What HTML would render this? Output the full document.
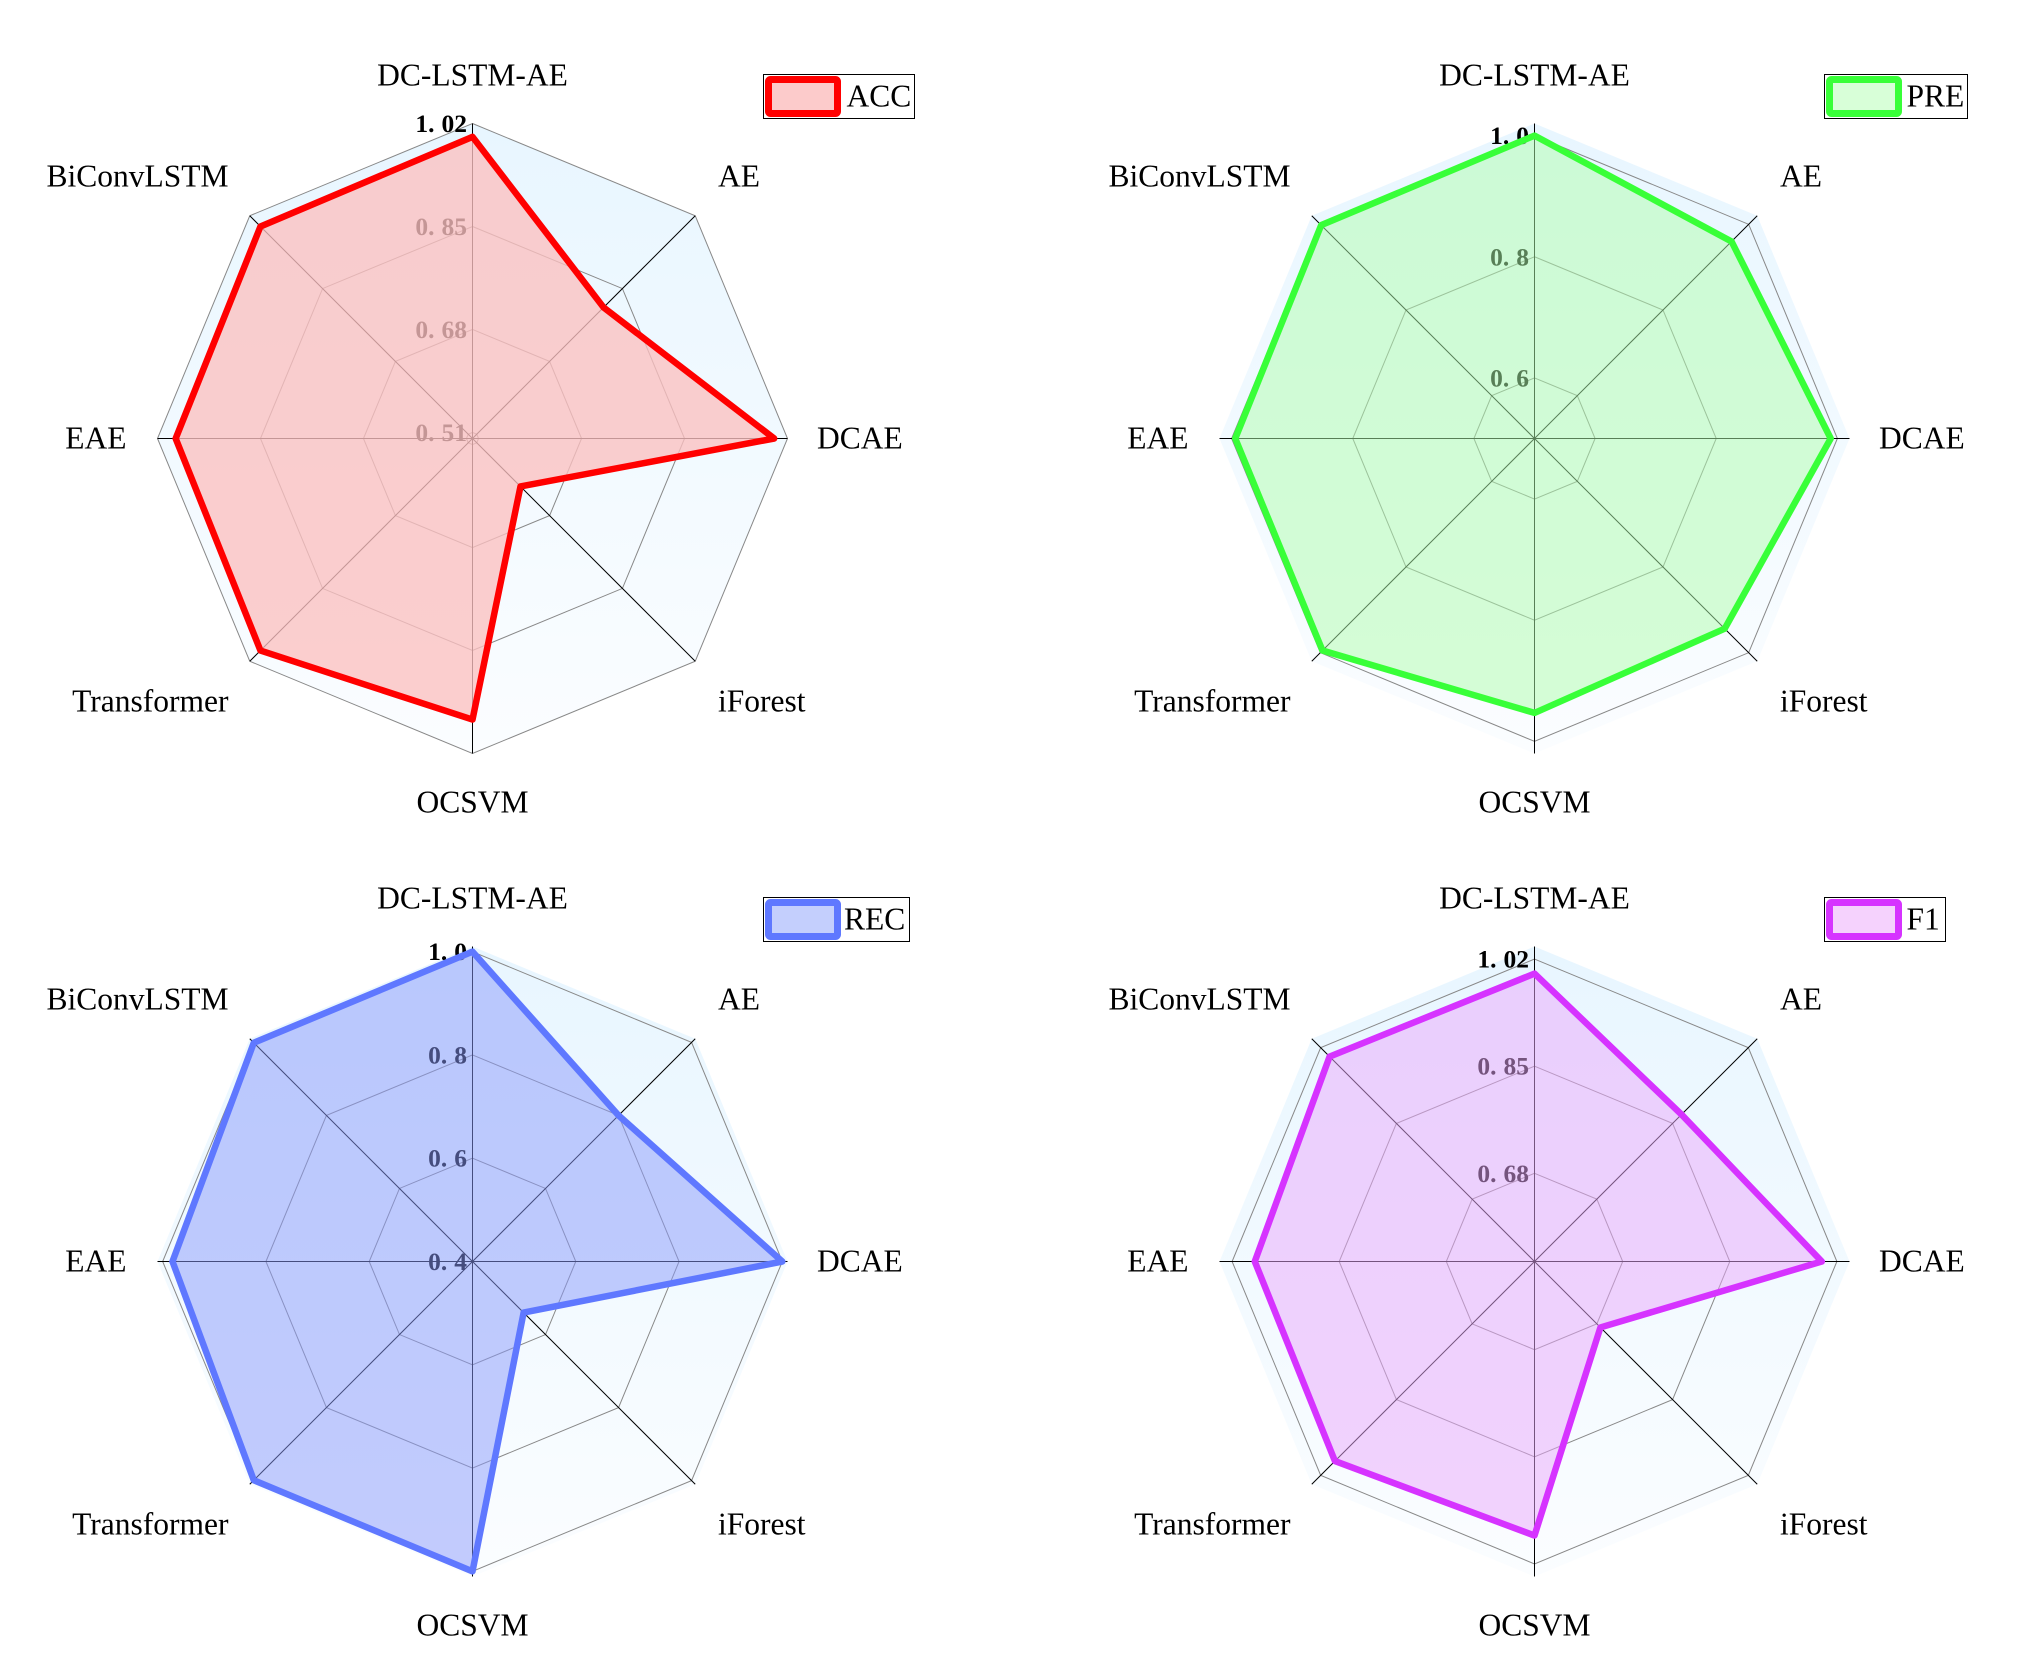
<!DOCTYPE html>
<html lang="en">
<head>
<meta charset="utf-8">
<title>Radar charts of ACC, PRE, REC and F1</title>
<style>
html,body{margin:0;padding:0;background:#fff;width:2021px;height:1676px;overflow:hidden}
svg{display:block}
text{font-family:"Liberation Serif","Times New Roman",serif;fill:#000}
</style>
</head>
<body>
<svg id="chart" xmlns="http://www.w3.org/2000/svg" width="2021" height="1676" viewBox="0 0 2021 1676">
<rect width="2021" height="1676" fill="#ffffff"/>
<defs>
<linearGradient id="band-top-left" gradientUnits="userSpaceOnUse" x1="0" y1="123" x2="0" y2="754"><stop offset="0" stop-color="#e8f6ff"/><stop offset="1" stop-color="#fbfdff"/></linearGradient>
<linearGradient id="band-top-right" gradientUnits="userSpaceOnUse" x1="0" y1="123" x2="0" y2="754"><stop offset="0" stop-color="#e8f6ff"/><stop offset="1" stop-color="#fbfdff"/></linearGradient>
<linearGradient id="band-bottom-left" gradientUnits="userSpaceOnUse" x1="0" y1="946" x2="0" y2="1577"><stop offset="0" stop-color="#e8f6ff"/><stop offset="1" stop-color="#fbfdff"/></linearGradient>
<linearGradient id="band-bottom-right" gradientUnits="userSpaceOnUse" x1="0" y1="946" x2="0" y2="1577"><stop offset="0" stop-color="#e8f6ff"/><stop offset="1" stop-color="#fbfdff"/></linearGradient>
</defs>
</svg>
<script>
// Categories, clockwise from the top
const categories = ['DC-LSTM-AE', 'AE', 'DCAE', 'iForest', 'OCSVM', 'Transformer', 'EAE', 'BiConvLSTM'];

// Series values
const accValues = [0.998, 0.806, 0.998, 0.612, 0.964, 0.995, 0.990, 0.995];
const preValues = [1.000, 0.960, 0.989, 0.944, 0.953, 0.995, 0.994, 0.998];
const recValues = [1.000, 0.800, 1.000, 0.540, 1.000, 0.999, 0.981, 0.999];
const f1Values = [0.997, 0.870, 0.996, 0.688, 0.975, 0.988, 0.984, 1.000];

// Tick labels
const accTicks = ['0.51', '0.68', '0.85', '1.02'];
const preTicks = ['0.6', '0.8', '1.0'];
const recTicks = ['0.4', '0.6', '0.8', '1.0'];
const f1Ticks = ['0.68', '0.85', '1.02'];

// Axis ranges [min, max]
const accRange = [0.5, 1.02];
const preRange = [0.5, 1.02];
const recRange = [0.4, 1.01];
const f1Range = [0.54, 1.04];

const R = 315;
const panels = [
  {key: 'acc', title: 'ACC', values: accValues, ticks: accTicks, range: accRange, cx: 472.5, cy: 438.5, grad: 'band-top-left',
   line: '#ff0000', fill: 'rgb(251,192,192)', alpha: 0.78, swatch: '#fccbcb',
   box: [763.5, 74.5, 151, 44], sw: [765, 76, 76, 41], tx: 846.5},
  {key: 'pre', title: 'PRE', values: preValues, ticks: preTicks, range: preRange, cx: 1534.5, cy: 438.5, grad: 'band-top-right',
   line: '#38ff38', fill: 'rgb(176,253,173)', alpha: 0.5, swatch: '#d8ffd8',
   box: [1824.5, 74.5, 143, 44], sw: [1826, 76, 76, 41], tx: 1906.5},
  {key: 'rec', title: 'REC', values: recValues, ticks: recTicks, range: recRange, cx: 472.5, cy: 1261.5, grad: 'band-bottom-left',
   line: '#5f78ff', fill: 'rgb(138,153,251)', alpha: 0.5, swatch: '#c4cffd',
   box: [763.5, 897.5, 146, 44], sw: [765, 899, 76, 41], tx: 844},
  {key: 'f1', title: 'F1', values: f1Values, ticks: f1Ticks, range: f1Range, cx: 1534.5, cy: 1261.5, grad: 'band-bottom-right',
   line: '#d633ff', fill: 'rgb(234,167,251)', alpha: 0.5, swatch: '#f5d2fd',
   box: [1824.5, 897.5, 121, 44], sw: [1826, 899, 76, 41], tx: 1906.5}
];

const NS = 'http://www.w3.org/2000/svg';
const root = document.getElementById('chart');

function make(tag, parent, attrs) {
  const node = document.createElementNS(NS, tag);
  for (const k in attrs) node.setAttribute(k, attrs[k]);
  parent.appendChild(node);
  return node;
}
function angleOf(i) { return i * Math.PI / 4; }
function radiusOf(v, range) { return R * (v - range[0]) / (range[1] - range[0]); }
function pointAt(p, i, r) {
  return [p.cx + r * Math.sin(angleOf(i)), p.cy - r * Math.cos(angleOf(i))];
}
function ringPoints(p, r) {
  return categories.map((c, i) => pointAt(p, i, r).map(n => n.toFixed(2)).join(',')).join(' ');
}

// Category label placement, relative to the panel centre
const labelAnchor = ['middle', 'start', 'start', 'start', 'middle', 'end', 'end', 'end'];
const labelDx = [0, 245.5, 344.5, 245.5, 0, -244, -346, -244];
const labelDy = [-353, -252, 10, 273, 374, 273, 10, -252];

panels.forEach(p => {
  const g = make('g', root, {});
  
  

  const band = make('polygon', g, {points: ringPoints(p, R), fill: 'url(#' + p.grad + ')'});
  
  

  p.ticks.forEach(t => {
    const ring = make('polygon', g, {points: ringPoints(p, radiusOf(parseFloat(t), p.range)), fill: 'none', stroke: '#888888', 'stroke-width': 1});
    
    
  });

  categories.forEach((c, i) => {
    const end = pointAt(p, i, R);
    const axis = make('line', g, {x1: p.cx, y1: p.cy, x2: end[0], y2: end[1], stroke: '#000000', 'stroke-width': 1});
    
    
  });

  p.ticks.forEach(t => {
    const r = radiusOf(parseFloat(t), p.range);
    const label = make('text', g, {x: p.cx - 5.5, y: p.cy - r + 8.5, 'text-anchor': 'end', 'font-size': 25.5, 'font-weight': 'bold', dx: '0 0 7 0'});
    label.textContent = t;
    
    
  });

  const pts = p.values.map((v, i) => pointAt(p, i, radiusOf(v, p.range)).map(n => n.toFixed(2)).join(',')).join(' ');
  const area = make('polygon', g, {points: pts, fill: p.fill, 'fill-opacity': p.alpha, stroke: 'none'});
  
  
  const outline = make('polygon', g, {points: pts, fill: 'none', stroke: p.line, 'stroke-width': 6.5, 'stroke-linejoin': 'round'});
  
  

  categories.forEach((c, i) => {
    const label = make('text', g, {x: p.cx + labelDx[i], y: p.cy + labelDy[i], 'text-anchor': labelAnchor[i], 'font-size': 31.5});
    label.textContent = c;
    
    
  });

  const legend = make('g', g, {});
  
  
  const box = make('rect', legend, {x: p.box[0], y: p.box[1], width: p.box[2], height: p.box[3], fill: '#ffffff', stroke: '#000000', 'stroke-width': 1});
  
  
  const sw = make('rect', legend, {x: p.sw[0] + 3.5, y: p.sw[1] + 3.5, width: p.sw[2] - 7, height: p.sw[3] - 7, rx: 2, fill: p.swatch, stroke: p.line, 'stroke-width': 7, 'stroke-linejoin': 'round'});
  
  
  const legendText = make('text', legend, {x: p.tx, y: p.box[1] + 32, 'font-size': 31.5});
  legendText.textContent = p.title;
  
  
});
</script>
</body>
</html>
